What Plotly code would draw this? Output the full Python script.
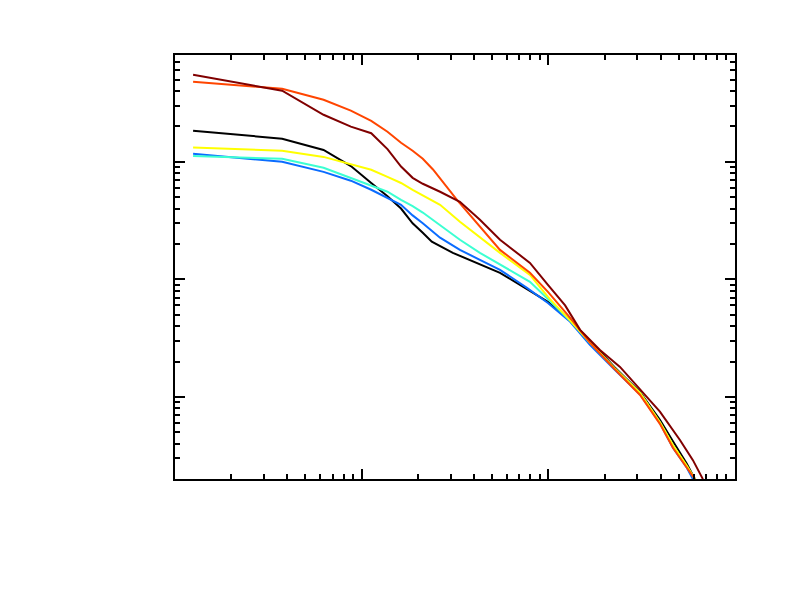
import plotly.graph_objects as go

# x values and normalised spectra
black_x = [1.25, 3.75, 6.25, 8.75, 11.25, 13.75, 16.25, 18.75, 21.25, 23.75, 30.8, 43.0, 55.1, 99.5, 131, 167, 227, 310, 396, 465, 552, 610]
black_y = [1.84, 1.57, 1.26, 0.92, 0.66, 0.51, 0.40, 0.30, 0.249, 0.209, 0.168, 0.133, 0.1136, 0.0644, 0.0452, 0.0300, 0.0178, 0.0110, 0.0064, 0.0042, 0.0027, 0.0020]

blue_x = [1.25, 3.75, 6.25, 8.75, 11.25, 13.75, 16.25, 18.75, 21.25, 26.3, 33.6, 43.0, 55.1, 76.8, 99.5, 131, 167, 227, 310, 396, 465, 552, 595]
blue_y = [1.17, 1.0, 0.82, 0.69, 0.578, 0.494, 0.43, 0.35, 0.30, 0.226, 0.178, 0.1466, 0.1205, 0.0847, 0.063, 0.0435, 0.0277, 0.0170, 0.0105, 0.0060, 0.0037, 0.0025, 0.0020]

cyan_x = [1.25, 3.75, 6.25, 8.75, 11.25, 13.75, 16.25, 18.75, 21.25, 26.3, 33.6, 43.0, 55.1, 79.7, 99.5, 131, 167, 227, 310, 396, 465, 552, 610]
cyan_y = [1.12, 1.06, 0.89, 0.73, 0.63, 0.556, 0.475, 0.42, 0.37, 0.291, 0.217, 0.168, 0.133, 0.0953, 0.068, 0.0445, 0.029, 0.0175, 0.0108, 0.0061, 0.0039, 0.0026, 0.0020]

yellow_x = [1.25, 3.75, 6.25, 8.75, 11.25, 13.75, 16.25, 18.75, 21.25, 26.3, 33.6, 43.0, 55.1, 79.7, 99.5, 131, 167, 227, 310, 396, 465, 552, 610]
yellow_y = [1.32, 1.24, 1.10, 0.96, 0.855, 0.745, 0.66, 0.578, 0.52, 0.43, 0.309, 0.226, 0.168, 0.109, 0.071, 0.0445, 0.029, 0.0175, 0.0108, 0.0061, 0.0039, 0.0026, 0.0020]

orange_x = [1.25, 3.75, 6.25, 8.75, 11.25, 13.75, 16.25, 18.75, 21.25, 24.1, 32.4, 41.5, 55.1, 79.7, 99.5, 131, 167, 227, 310, 396, 465, 552, 610]
orange_y = [4.80, 4.18, 3.37, 2.72, 2.23, 1.80, 1.45, 1.24, 1.06, 0.86, 0.475, 0.303, 0.178, 0.1136, 0.0783, 0.047, 0.029, 0.0172, 0.0104, 0.0059, 0.0037, 0.0025, 0.0020]

darkred_x = [1.25, 3.75, 6.25, 8.75, 11.25, 13.75, 16.25, 18.75, 21.25, 26.3, 33.6, 43.0, 55.1, 79.7, 99.5, 123, 148, 189, 242, 310, 396, 507, 595, 673]
darkred_y = [5.50, 4.02, 2.51, 1.99, 1.75, 1.28, 0.91, 0.73, 0.65, 0.556, 0.457, 0.321, 0.217, 0.138, 0.0898, 0.060, 0.0372, 0.0251, 0.0180, 0.0115, 0.0075, 0.0043, 0.0029, 0.0020]

series = [
    ("black", black_x, black_y, "#000000"),
    ("blue", blue_x, blue_y, "#0a6cff"),
    ("cyan", cyan_x, cyan_y, "#3cffd2"),
    ("yellow", yellow_x, yellow_y, "#ffff00"),
    ("orange", orange_x, orange_y, "#ff4500"),
    ("darkred", darkred_x, darkred_y, "#800000"),
]

x_major = [1, 10, 100, 1000]
x_minor = [m * d for d in (1, 10, 100) for m in range(2, 10)]
y_major = [0.01, 0.1, 1]
y_minor = [m * d for d in (0.001, 0.01, 0.1, 1) for m in range(2, 10)]

fig = go.Figure()
for name, xs, ys, color in series:
    fig.add_trace(go.Scatter(x=xs, y=ys, mode="lines", name=name,
                             line=dict(color=color, width=2)))

axis_style = dict(
    type="log",
    showgrid=False,
    zeroline=False,
    showline=True,
    linecolor="black",
    linewidth=2,
    mirror="ticks",
    ticks="inside",
    ticklen=10,
    tickwidth=2,
    tickcolor="black",
    showticklabels=False,
)

fig.update_xaxes(range=[0, 3], tickmode="array", tickvals=x_major,
                 minor=dict(tickmode="array", tickvals=x_minor, ticks="inside",
                            ticklen=5, tickwidth=2, tickcolor="black", showgrid=False),
                 **axis_style)
fig.update_yaxes(range=[-2.698, 0.908], tickmode="array", tickvals=y_major,
                 minor=dict(tickmode="array", tickvals=y_minor, ticks="inside",
                            ticklen=5, tickwidth=2, tickcolor="black", showgrid=False),
                 **axis_style)

# the page body adds 8px around the plot div, so the figure is a bit smaller
fig.update_layout(
    width=778, height=583,
    margin=dict(l=167, r=51, t=47, b=112),
    paper_bgcolor="white",
    plot_bgcolor="white",
    showlegend=False,
)

fig.write_html("out.html")
